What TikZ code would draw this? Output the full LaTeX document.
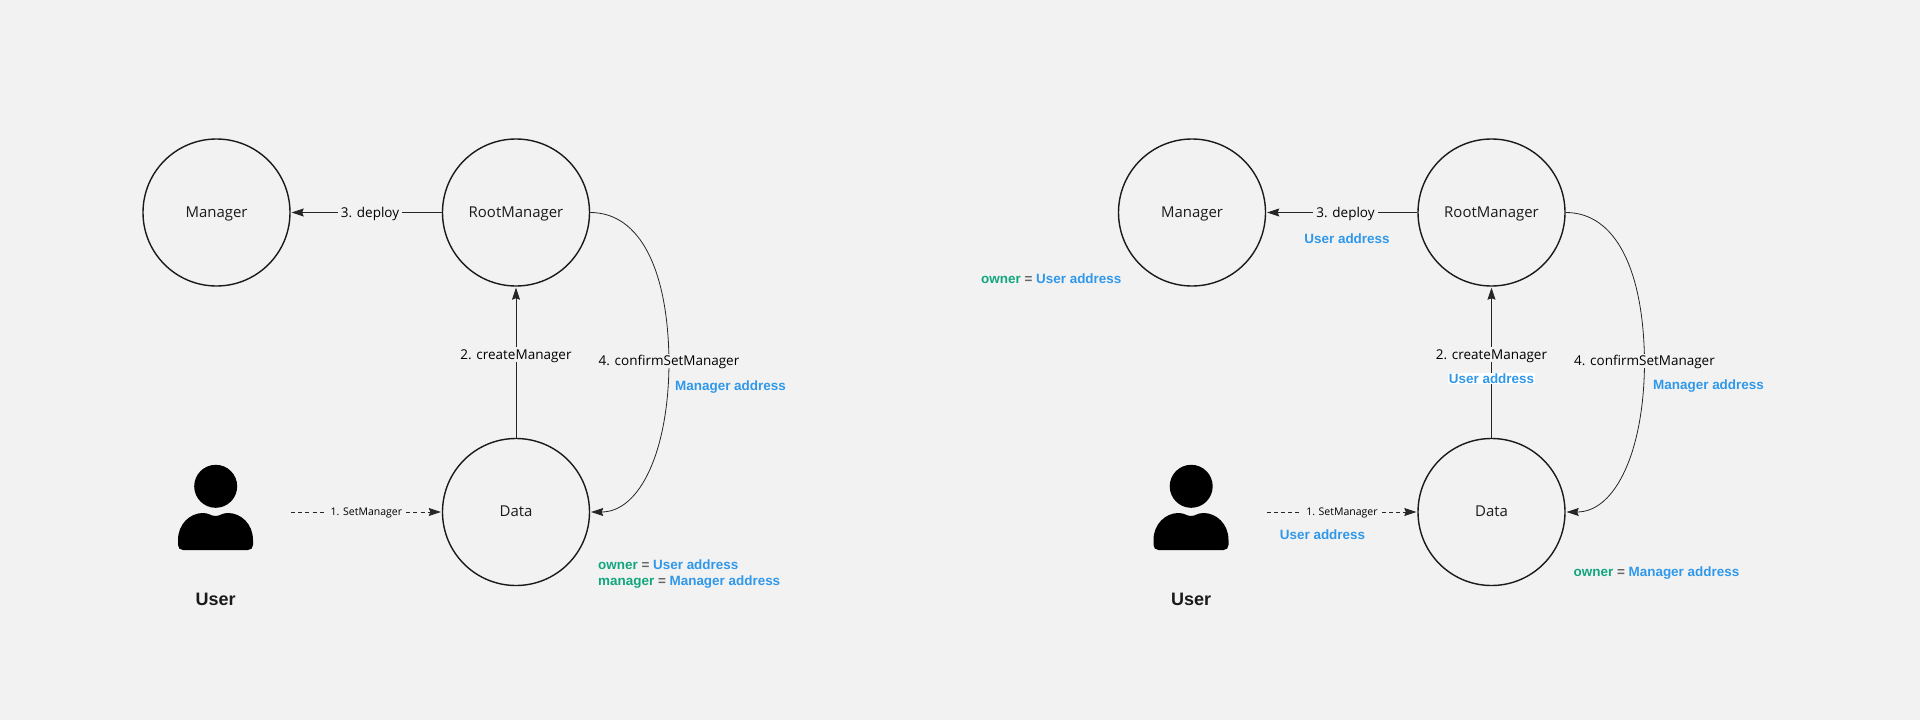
\documentclass[tikz,border=0pt]{standalone}
\usepackage{fontspec}
\setmainfont{Open Sans}
\newfontfamily\liberation{Liberation Sans}
\usetikzlibrary{arrows.meta}
\definecolor{bgc}{HTML}{F2F2F2}
\definecolor{bluec}{HTML}{3098EA}
\definecolor{greenc}{HTML}{12A67F}
\definecolor{inkc}{HTML}{1A1A1A}
\definecolor{eqc}{HTML}{666666}
\newcommand{\bl}[1]{\textcolor{bluec}{#1}}
\newcommand{\gr}[1]{\textcolor{greenc}{#1}}
\newcommand{\eqs}{\textcolor{eqc}{\ =\ }}
\tikzset{
  x=1pt,y=-1pt,
  entity/.style={circle,draw=inkc,line width=1.4pt,minimum size=147pt,inner sep=0pt,text=inkc,text height=12pt,text depth=2.6pt,font=\fontsize{14.95}{18}\selectfont},
  conn/.style={draw=black!85,line width=0.8pt,-{Stealth[length=12pt,width=8pt,inset=1.5pt]},shorten >=1pt},
  dconn/.style={conn,dash pattern=on 4pt off 3.2pt},
  lab/.style={fill=bgc,text=black,inner xsep=3pt,inner ysep=0pt,text height=12pt,text depth=2.5pt,font=\fontsize{13.5}{16}\selectfont},
  smalllab/.style={lab,text height=8pt,text depth=2pt,font=\fontsize{10.5}{14}\selectfont,inner xsep=4pt},
  note/.style={inner sep=0pt,anchor=base west,font=\liberation\bfseries\fontsize{13.45}{16}\selectfont},
  notec/.style={note,anchor=base},
  person/.style={fill=black,draw=none},
  who/.style={inner sep=0pt,anchor=base,text=inkc,font=\liberation\bfseries\fontsize{18}{22}\selectfont},
}
\begin{document}
\begin{tikzpicture}
\path[use as bounding box,fill=bgc] (0,0) rectangle (1920,720);
% ---------- left diagram
\node[entity] (m1) at (216.5,212.5) {Manager};
\node[entity] (r1) at (516,212.5) {RootManager};
\node[entity] (d1) at (516,512) {Data};
\coordinate (u1) at (291,512);
\coordinate (w1) at (669,361);
\draw[conn] (r1.west) -- node[lab,pos=.475] {3. deploy} (m1.east);
\draw[conn] (d1.north) -- node[lab,pos=.55] {2. createManager} (r1.south);
\draw[dconn] (u1) -- node[smalllab,pos=.5] {1. SetManager} (d1.west);
\draw[conn] (r1.east) .. controls +(50,0) and (668,270) .. (w1) .. controls (669,450) and +(50,0) .. (d1.east);
\node[lab] (c1) at (w1) {4. confirmSetManager};
\node[note] (n1) at (675,390) {\bl{Manager address}};
\node[note] (n2) at (598,569.5) {\gr{owner}\eqs\bl{User address}};
\node[note] (n3) at (598,585.5) {\gr{manager}\eqs\bl{Manager address}};
\fill[person] (215.7,486.3) circle (21.5);
\fill[person] (178,540) .. controls (178,524) and (190,513) .. (203,513) .. controls (209,513) and (211,516) .. (215.5,516) .. controls (220,516) and (222,513) .. (228,513) .. controls (241,513) and (253,524) .. (253,540) -- (253,545) .. controls (253,548) and (251,550) .. (248,550) -- (183,550) .. controls (180,550) and (178,548) .. (178,545) -- cycle;
\node[who] (w1t) at (215.7,605) {User};
% ---------- right diagram
\node[entity] (m2) at (1192,212.5) {Manager};
\node[entity] (r2) at (1491.5,212.5) {RootManager};
\node[entity] (d2) at (1491.5,512) {Data};
\coordinate (u2) at (1266.5,512);
\coordinate (w2) at (1644.5,361);
\draw[conn] (r2.west) -- node[lab,pos=.475] {3. deploy} (m2.east);
\draw[conn] (d2.north) -- node[lab,pos=.55] {2. createManager} (r2.south);
\draw[dconn] (u2) -- node[smalllab,pos=.5] {1. SetManager} (d2.west);
\draw[conn] (r2.east) .. controls +(50,0) and (1643.5,270) .. (w2) .. controls (1644.5,450) and +(50,0) .. (d2.east);
\node[lab] (c2) at (w2) {4. confirmSetManager};
\node[note] (n4) at (1653,389.5) {\bl{Manager address}};
\node[note] (n5) at (1573.5,576) {\gr{owner}\eqs\bl{Manager address}};
\node[note] (n6) at (981,283.5) {\gr{owner}\eqs\bl{User address}};
\node[notec] (n7) at (1347,243.5) {\bl{User address}};
\node[notec] (n8) at (1322.5,539.5) {\bl{User address}};
\node[fill=white,inner xsep=1pt,inner ysep=1pt,font=\liberation\bfseries\fontsize{13.45}{16}\selectfont,text=bluec] (n9) at (1491.5,378.5) {User address};
\fill[person] (1191.2,486.3) circle (21.5);
\fill[person] (1153.5,540) .. controls (1153.5,524) and (1165.5,513) .. (1178.5,513) .. controls (1184.5,513) and (1186.5,516) .. (1191,516) .. controls (1195.5,516) and (1197.5,513) .. (1203.5,513) .. controls (1216.5,513) and (1228.5,524) .. (1228.5,540) -- (1228.5,545) .. controls (1228.5,548) and (1226.5,550) .. (1223.5,550) -- (1158.5,550) .. controls (1155.5,550) and (1153.5,548) .. (1153.5,545) -- cycle;
\node[who] (w2t) at (1191.2,605) {User};
\end{tikzpicture}
\end{document}
